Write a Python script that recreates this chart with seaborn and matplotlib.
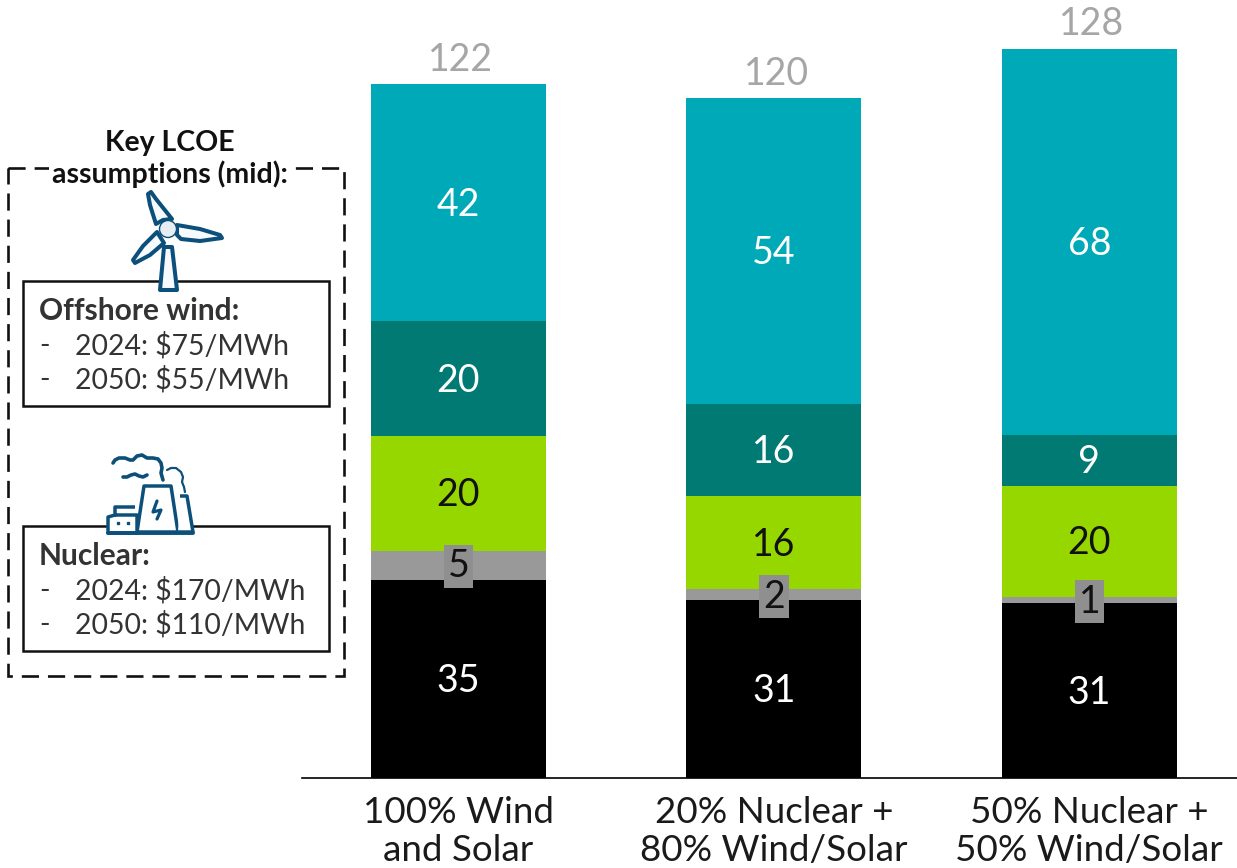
import matplotlib
matplotlib.use("Agg")
import matplotlib.pyplot as plt
from matplotlib.patches import Polygon, Rectangle, Circle
import numpy as np
import pandas as pd
import seaborn as sns

# Cost stack per generation mix, bottom layer first
scenarios = ["100% Wind\nand Solar", "20% Nuclear +\n80% Wind/Solar", "50% Nuclear +\n50% Wind/Solar"]
layer_a = [34.9, 31.3, 30.8]
layer_b = [5.1, 1.9, 1.1]
layer_c = [20.2, 16.4, 19.5]
layer_d = [20.2, 16.2, 9.0]
layer_e = [41.7, 53.9, 68.0]
layers = [layer_a, layer_b, layer_c, layer_d, layer_e]
layer_colors = ["#000000", "#999999", "#97D700", "#007A73", "#00A9B7"]
label_colors = ["white", "#111111", "#111111", "white", "white"]

W, H = 1237, 868
FONT = "Lato"
sns.set_theme(style="white")
plt.rcParams["font.family"] = [FONT, "DejaVu Sans"]

fig = plt.figure(figsize=(W / 100, H / 100), dpi=100, facecolor="white")
ax = fig.add_axes([302 / W, 1 - 778 / H, (W - 302) / W, 778 / H])

# Stacked columns
bottoms = np.zeros(3)
for values, color in zip(layers, layer_colors):
    frame = pd.DataFrame({"scenario": scenarios, "value": values})
    sns.barplot(data=frame, x="scenario", y="value", color=color, saturation=1,
                width=0.555, bottom=bottoms, ax=ax, linewidth=0, errorbar=None, zorder=2)
    bottoms = bottoms + np.array(values)

ax.set_xlim(-0.496, 2.468)
ax.set_ylim(0, 778 / 5.68)
ax.set_xlabel("")
ax.set_ylabel("")
ax.set_yticks([])
ax.tick_params(axis="x", length=0, pad=13, labelsize=26.5, labelcolor="#1a1a1a")
for lbl in ax.get_xticklabels():
    lbl.set_linespacing(1.18)
for side in ["top", "right", "left"]:
    ax.spines[side].set_visible(False)
ax.spines["bottom"].set_color("black")
ax.spines["bottom"].set_linewidth(1.2)

# Value labels inside the segments and totals above the columns
running = np.zeros(3)
for values, txt_color, color in zip(layers, label_colors, layer_colors):
    for i, v in enumerate(values):
        mid = running[i] + v / 2
        if v < 6:
            ax.text(i, mid - (0.2 if v > 4 else 0.3), f"{v:.0f}", ha="center", va="center",
                    fontsize=27, color=txt_color, zorder=5,
                    bbox=dict(boxstyle="square,pad=0.1", fc="#8F8F8F", ec="none"))
        else:
            ax.text(i, mid - 0.35, f"{v:.0f}", ha="center", va="center",
                    fontsize=27, color=txt_color, zorder=5)
    running += np.array(values)
for i, total in enumerate(running):
    ax.text(i + 0.007, total + 1.1, f"{total:.0f}", ha="center", va="bottom",
            fontsize=27, color="#A6A6A6", zorder=5, clip_on=False)

# Assumptions panel, laid out in figure pixels
ov = fig.add_axes([0, 0, 1, 1], facecolor="none")
ov.set_xlim(0, W)
ov.set_ylim(H, 0)
ov.axis("off")

ov.add_patch(Rectangle((8, 168), 336, 508, fc="none", ec="#111111", lw=1.9,
                       ls=(0, (6.5, 3.4)), zorder=1))
ov.text(170, 143, "Key LCOE", ha="center", va="center", fontsize=20.5,
        fontweight="bold", color="#111111", zorder=2)
ov.text(170, 174, "assumptions (mid):", ha="center", va="center", fontsize=20.5,
        fontweight="bold", color="#111111", zorder=2,
        bbox=dict(fc="white", ec="none", pad=2))

for top, heading, line1, line2 in [
    (281, "Offshore wind:", "2024: $75/MWh", "2050: $55/MWh"),
    (526, "Nuclear:", "2024: $170/MWh", "2050: $110/MWh"),
]:
    ov.add_patch(Rectangle((23, top), 306, 125, fc="white", ec="#111111", lw=1.8, zorder=3))
    ov.text(39, top + 30, heading, fontsize=21.5, fontweight="bold", color="#333333",
            va="center", zorder=4)
    for y_off, body in [(65, line1), (99, line2)]:
        ov.text(39, top + y_off, "-", fontsize=20.4, color="#333333", va="center", zorder=4)
        ov.text(75, top + y_off, body, fontsize=20.4, color="#333333", va="center", zorder=4)

ICON = "#0B4F7A"
# Wind turbine icon
for outline in [
    [(172, 219), (156, 199), (151, 192), (148, 194), (150, 205), (156, 224), (163, 220)],
    [(177, 225), (200, 229), (220, 235), (222, 238), (200, 241), (181, 239), (177, 235)],
    [(157, 232), (143, 246), (133, 260), (135, 263), (150, 255), (164, 243)],
    [(164, 247), (172, 247), (177, 290), (160, 290)],
]:
    ov.add_patch(Polygon(outline, closed=True, fc="#F7FAFC", ec=ICON, lw=2.9,
                         joinstyle="round", zorder=6))
ov.add_patch(Circle((168, 229), 8.5, fc="#E6EEF3", ec=ICON, lw=1.0, zorder=7))

# Power plant icon
for outline, closed in [
    ([(137, 532), (144, 486), (171, 486), (178, 532)], True),
    ([(180, 496), (187, 496), (193, 532), (178, 532)], False),
    ([(135, 507), (115, 507), (115, 515), (108, 517), (108, 533), (137, 533), (137, 515), (115, 515)], False),
]:
    ov.add_patch(Polygon(outline, closed=closed, fc="white", ec=ICON, lw=2.5,
                         joinstyle="round", zorder=6))
ov.plot([108, 193], [533, 533], color=ICON, lw=2.8, zorder=7)
ov.plot([157, 153, 161, 157], [501, 512, 510, 519], color=ICON, lw=2.3, zorder=7)
ov.plot([118, 128], [523, 523], ls="none", marker="s", ms=2, color=ICON, zorder=7)
smoke_paths = [
    ([113, 115, 119, 125, 130, 133, 137, 142, 147, 153, 158, 161, 162, 161, 163],
     [463, 460, 458, 458, 460, 460, 456, 455, 458, 458, 459, 463, 468, 473, 480], 2.6),
    ([123, 127, 131, 135, 139, 143, 147], [477, 477, 475, 474, 476, 477, 475], 2.6),
    ([167, 171, 176, 181, 183, 182, 184, 185], [470, 468, 468, 472, 477, 482, 487, 492], 1.6),
]
for xs, ys, width in smoke_paths:
    ov.plot(xs, ys, color=ICON, lw=width, solid_capstyle="round", solid_joinstyle="round", zorder=6)

fig.savefig("out.png", dpi=100, facecolor="white")
